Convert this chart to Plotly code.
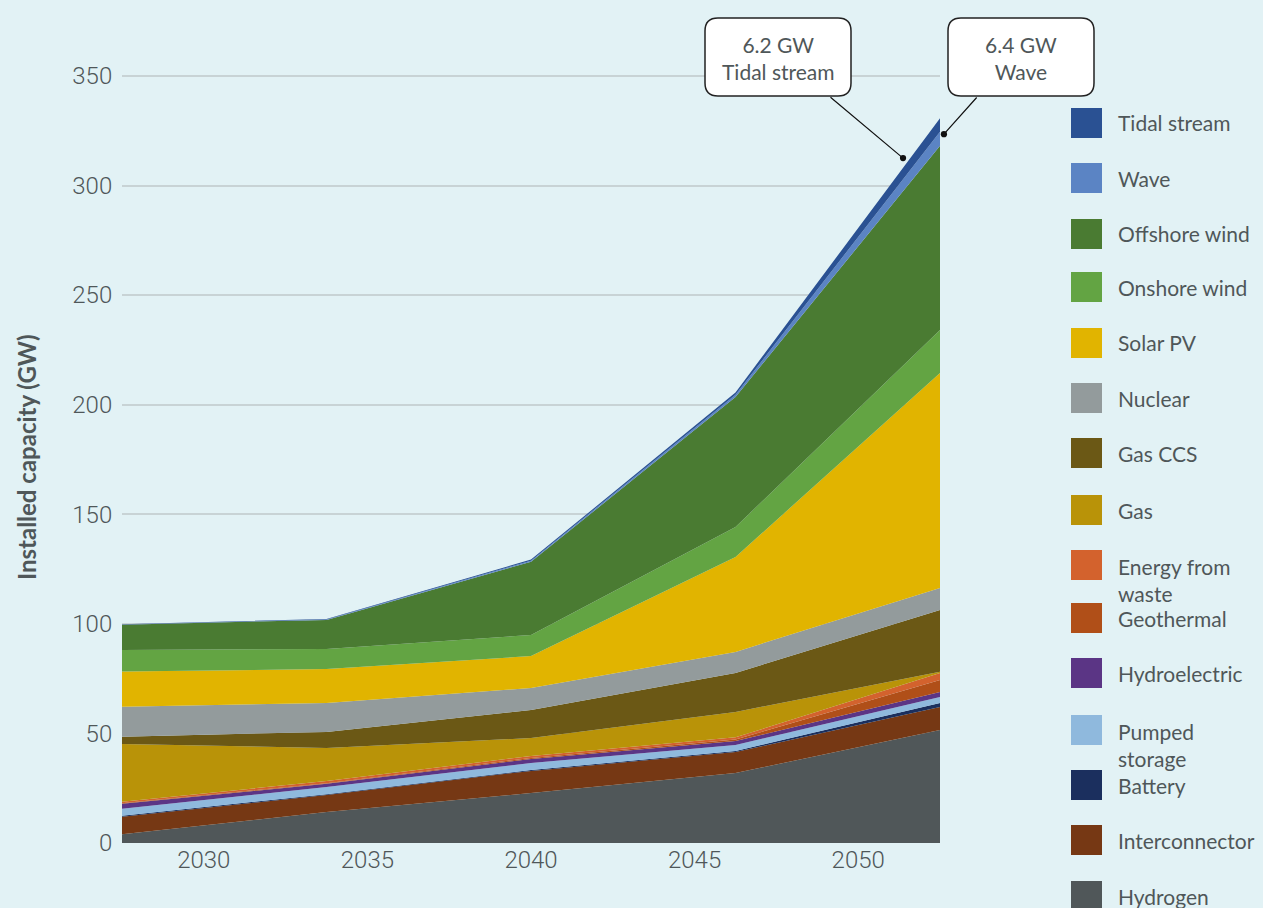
import plotly.graph_objects as go

# ---------------- data ----------------
years = [2027.5, 2033.75, 2040, 2046.25, 2052.5]
x_ticks = [2030, 2035, 2040, 2045, 2050]
y_ticks = [0, 50, 100, 150, 200, 250, 300, 350]

# stacking order: bottom -> top
hydrogen       = [4.0, 14.1, 22.8, 31.9, 51.6]
interconnector = [8.0, 7.8, 10.1, 9.6, 10.5]
battery        = [0.4, 0.4, 0.4, 0.5, 1.8]
pumped_storage = [3.2, 3.2, 3.2, 2.7, 2.7]
hydroelectric  = [2.3, 1.5, 1.8, 1.8, 2.3]
geothermal     = [0.2, 0.3, 0.5, 0.7, 5.5]
energy_waste   = [0.7, 1.0, 0.9, 1.0, 3.2]
gas            = [26.4, 15.1, 8.2, 11.6, 0.5]
gas_ccs        = [3.3, 7.3, 12.8, 17.8, 28.2]
nuclear        = [13.7, 13.2, 10.0, 9.6, 10.1]
solar_pv       = [16.0, 15.5, 14.6, 43.3, 98.1]
onshore_wind   = [9.9, 9.1, 9.6, 13.7, 19.6]
offshore_wind  = [11.5, 13.3, 33.4, 59.3, 84.0]
wave           = [0.1, 0.2, 0.5, 1.0, 6.4]
tidal_stream   = [0.1, 0.2, 0.5, 1.0, 6.2]

series = [
    ("Hydrogen", hydrogen, "#505759", "Hydrogen"),
    ("Interconnector", interconnector, "#763814", "Interconnector"),
    ("Battery", battery, "#1b2f5e", "Battery"),
    ("Pumped storage", pumped_storage, "#8fb9dd", "Pumped<br>storage"),
    ("Hydroelectric", hydroelectric, "#5b3585", "Hydroelectric"),
    ("Geothermal", geothermal, "#b04f18", "Geothermal"),
    ("Energy from waste", energy_waste, "#d3622d", "Energy from<br>waste"),
    ("Gas", gas, "#b99308", "Gas"),
    ("Gas CCS", gas_ccs, "#6b5815", "Gas CCS"),
    ("Nuclear", nuclear, "#939b9c", "Nuclear"),
    ("Solar PV", solar_pv, "#e1b400", "Solar PV"),
    ("Onshore wind", onshore_wind, "#63a443", "Onshore wind"),
    ("Offshore wind", offshore_wind, "#4a7b32", "Offshore wind"),
    ("Wave", wave, "#5b84c4", "Wave"),
    ("Tidal stream", tidal_stream, "#2a5193", "Tidal stream"),
]

# callout text and the (year, GW) point each one points at
callouts = [
    ("6.2 GW<br>Tidal stream", 2051.37, 312.5),
    ("6.4 GW<br>Wave", 2052.62, 323.4),
]

# ---------------- geometry helpers ----------------
W, H = 1263, 908
PL, PR, PT, PB = 122, 940, 54, 843
Y_MAX = 360
X0, X1 = years[0], years[-1]


def px(x):
    return (x - PL) / (PR - PL)


def py(y):
    return (PB - y) / (PB - PT)


def data_to_pixel(xv, yv):
    return (PL + (xv - X0) / (X1 - X0) * (PR - PL),
            PB - yv / Y_MAX * (PB - PT))


def rounded_rect(x0, y0, x1, y1, r):
    XA, XB = px(x0), px(x1)
    YA, YB = py(y0), py(y1)
    rx = r / (PR - PL)
    ry = r / (PB - PT)
    return (f"M {XA+rx},{YA} L {XB-rx},{YA} Q {XB},{YA} {XB},{YA-ry} "
            f"L {XB},{YB+ry} Q {XB},{YB} {XB-rx},{YB} "
            f"L {XA+rx},{YB} Q {XA},{YB} {XA},{YB+ry} "
            f"L {XA},{YA-ry} Q {XA},{YA} {XA+rx},{YA} Z")


TXT = "#4f5759"
BG = "#e2f2f5"
TICKFONT = "Roboto, sans-serif"
LABFONT = "Lato, Noto Sans, sans-serif"

fig = go.Figure()
for name, vals, color, _ in series:
    fig.add_trace(go.Scatter(
        x=years, y=vals, name=name, mode="lines",
        stackgroup="one", line=dict(width=0, color=color),
        fillcolor=color, showlegend=False, hoverinfo="x+y+name",
    ))

shapes = []
annotations = []

# legend (manual)
legend_centers = [123, 178, 234, 287, 343, 398, 453, 510, 565, 618, 673, 730, 785, 840, 896]
for (name, vals, color, label), cy in zip(reversed(series), legend_centers):
    shapes.append(dict(type="rect", xref="paper", yref="paper",
                       x0=px(1071), x1=px(1102), y0=py(cy + 15), y1=py(cy - 15),
                       fillcolor=color, line=dict(width=0)))
    two = "<br>" in label
    annotations.append(dict(
        xref="paper", yref="paper", x=px(1116), y=py(cy - 13) if two else py(cy),
        xanchor="left", yanchor="top" if two else "middle",
        text=label, showarrow=False, align="left",
        font=dict(family=LABFONT, size=21, color=TXT)))

# callout boxes
boxes = [(705, 18, 851, 96, 829), (948, 18, 1094, 96, 978)]
for (text, dx, dy), (bx0, by0, bx1, by1, lx) in zip(callouts, boxes):
    shapes.append(dict(type="path", xref="paper", yref="paper",
                       path=rounded_rect(bx0, by0, bx1, by1, 13),
                       fillcolor="white", line=dict(color="#222222", width=1.5)))
    annotations.append(dict(
        xref="paper", yref="paper", x=px((bx0 + bx1) / 2), y=py((by0 + by1) / 2 + 1),
        xanchor="center", yanchor="middle",
        text=text, showarrow=False, align="center",
        font=dict(family=LABFONT, size=21, color=TXT)))
    hx, hy = data_to_pixel(dx, dy)
    annotations.append(dict(
        x=px(hx), y=py(hy), xref="paper", yref="paper", text="",
        showarrow=True, arrowhead=6, arrowsize=1.3, arrowwidth=1.2, arrowcolor="#111111",
        ax=lx - hx, ay=by1 - hy, standoff=0,
    ))

# y-axis title
annotations.append(dict(
    xref="paper", yref="paper", x=px(27), y=py(457), text="Installed capacity (GW)",
    xanchor="center", yanchor="middle",
    textangle=-90, showarrow=False,
    font=dict(family=LABFONT, size=24, color=TXT, weight="bold")))

fig.update_layout(
    width=W, height=H,
    paper_bgcolor=BG, plot_bgcolor=BG,
    margin=dict(l=PL, r=W - PR, t=PT, b=H - PB),
    xaxis=dict(range=[X0, X1], tickvals=x_ticks,
               ticktext=[str(t) for t in x_ticks],
               showgrid=False, zeroline=False, showline=False,
               ticks="",
               tickfont=dict(family=TICKFONT, size=24, color=TXT, weight=300)),
    yaxis=dict(range=[0, Y_MAX], tickvals=y_ticks,
               showgrid=True, gridcolor="#c8d3d5", gridwidth=2,
               zeroline=False, showline=False,
               ticks="outside", ticklen=4, tickcolor="rgba(0,0,0,0)",
               tickfont=dict(family=TICKFONT, size=24, color=TXT, weight=300)),
    shapes=shapes, annotations=annotations,
    showlegend=False,
)

fig.write_html("out.html",
               config={"displayModeBar": False},
               post_script="document.body.style.margin='0';document.body.style.overflow='hidden';")
